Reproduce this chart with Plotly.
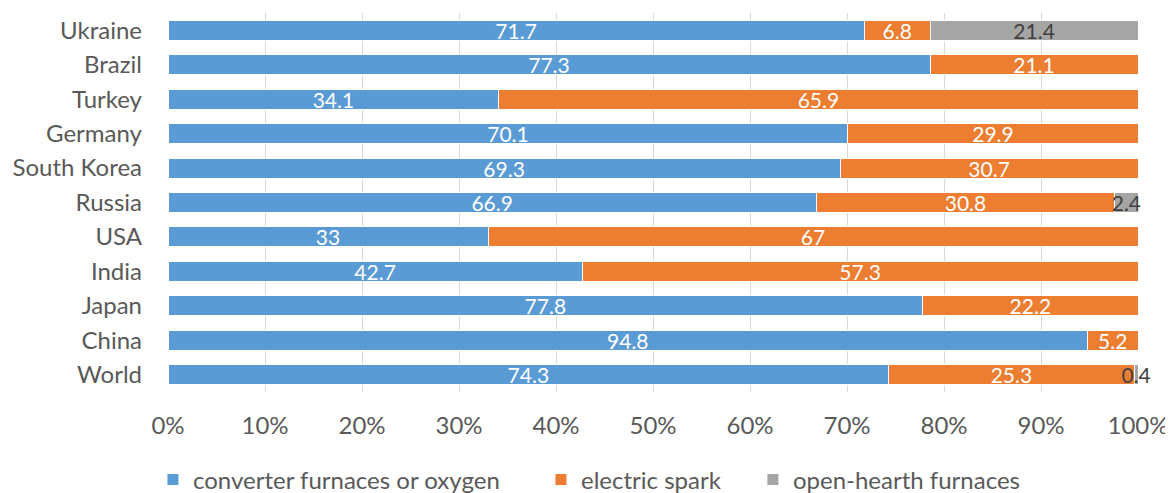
import plotly.graph_objects as go

countries = ["Ukraine", "Brazil", "Turkey", "Germany", "South Korea", "Russia",
             "USA", "India", "Japan", "China", "World"]
converter = [71.7, 77.3, 34.1, 70.1, 69.3, 66.9, 33, 42.7, 77.8, 94.8, 74.3]
electric = [6.8, 21.1, 65.9, 29.9, 30.7, 30.8, 67, 57.3, 22.2, 5.2, 25.3]
open_hearth = [21.4, None, None, None, None, 2.4, None, None, None, None, 0.4]

tick_vals = [0, 10, 20, 30, 40, 50, 60, 70, 80, 90, 100]
tick_text = ["0%", "10%", "20%", "30%", "40%", "50%", "60%", "70%", "80%", "90%", "100%"]

series = [
    ("converter furnaces or oxygen", converter, "#5B9BD5", "white", "legend", -0.0155),
    ("electric spark", electric, "#ED7D31", "white", "legend2", 0.3845),
    ("open-hearth furnaces", open_hearth, "#A5A5A5", "#404040", "legend3", 0.603),
]

FONT = "Lato"
LEG_Y = -0.232
fig = go.Figure()
legends = {}
for name, vals, color, tcolor, leg, lx in series:
    fig.add_trace(go.Bar(
        y=countries,
        x=[v if v is not None else 0 for v in vals],
        name=name,
        orientation="h",
        marker=dict(color=color, line=dict(color="white", width=1)),
        text=["" if v is None else f"{v:g}" for v in vals],
        texttemplate="%{text}",
        textposition="inside",
        insidetextanchor="middle",
        textangle=0,
        constraintext="none",
        cliponaxis=False,
        textfont=dict(color=tcolor, size=21, family=FONT),
        hoverinfo="skip",
        legend=leg,
        showlegend=True,
    ))
    legends[leg] = dict(
        orientation="h",
        x=lx,
        xanchor="left",
        y=LEG_Y,
        yanchor="middle",
        font=dict(size=24, color="#595959", family=FONT),
        bgcolor="rgba(0,0,0,0)",
        visible=True,
    )

fig.update_layout(
    barmode="stack",
    barnorm="percent",
    bargap=0.42,
    width=1165,
    height=485,
    margin=dict(l=160, r=35, t=5, b=101, autoexpand=False),
    paper_bgcolor="white",
    plot_bgcolor="white",
    font=dict(family=FONT, size=24, color="#595959"),
    uniformtext=dict(mode=False),
    showlegend=True,
    **legends,
)
fig.update_xaxes(
    range=[0, 100],
    tickvals=tick_vals,
    ticktext=tick_text,
    showgrid=True,
    gridcolor="#D9D9D9",
    gridwidth=1,
    zeroline=False,
    automargin=False,
    ticklabelstandoff=17,
    tickfont=dict(size=24, color="#595959"),
)
fig.update_yaxes(
    autorange="reversed",
    showgrid=False,
    automargin=False,
    ticklabelstandoff=25,
    tickfont=dict(size=24, color="#595959"),
)

fig.write_html("out.html")
